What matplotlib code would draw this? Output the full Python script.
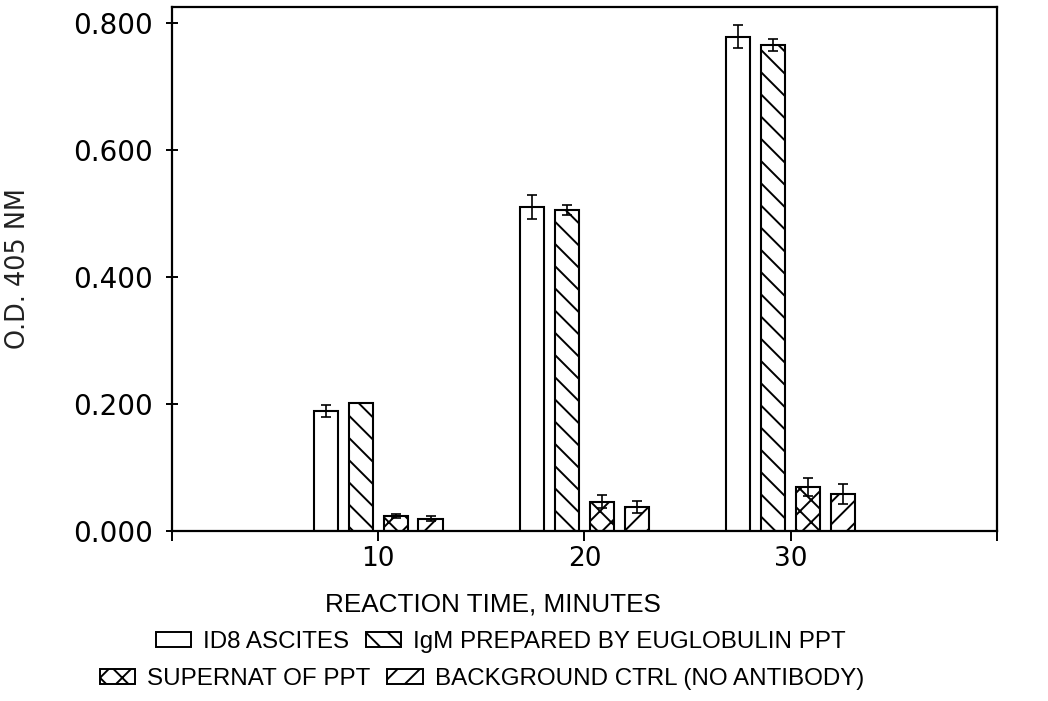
import numpy as np
import matplotlib
matplotlib.use("Agg")
import matplotlib.pyplot as plt
from matplotlib import font_manager
from matplotlib.patches import Patch

# data
times = [10, 20, 30]
labels = ["ID8 ASCITES", "IgM PREPARED BY EUGLOBULIN PPT",
          "SUPERNAT OF PPT", "BACKGROUND CTRL (NO ANTIBODY)"]
id8 = [0.189, 0.510, 0.778]
id8_err = [0.010, 0.019, 0.018]
igm = [0.201, 0.505, 0.765]
igm_err = [0.0, 0.008, 0.010]
supernat = [0.023, 0.046, 0.069]
supernat_err = [0.003, 0.010, 0.014]
background = [0.019, 0.038, 0.058]
background_err = [0.004, 0.009, 0.016]
y_ticks = [0.0, 0.2, 0.4, 0.6, 0.8]

values = [id8, igm, supernat, background]
errors = [id8_err, igm_err, supernat_err, background_err]
hatches = ["", "\\\\\\", "xxx", "///"]

names = {f.name for f in font_manager.fontManager.ttflist}
narrow = "Liberation Sans Narrow" if "Liberation Sans Narrow" in names else "Liberation Sans"

plt.rcParams["hatch.linewidth"] = 0.7
plt.rcParams["font.family"] = "DejaVu Sans"

fig = plt.figure(figsize=(5.24, 3.505), dpi=200)
ax = fig.add_axes([0.1641, 0.2425, 0.7872, 0.7475])

x = np.array(times, dtype=float)
step = 1.69
width = 1.17
for i, (vals, errs, h) in enumerate(zip(values, errors, hatches)):
    pos = x + (i - 1.5) * step
    ax.bar(pos, vals, width=width, facecolor="white", edgecolor="black",
           linewidth=0.75, hatch=h, zorder=2)
    ax.errorbar(pos, vals, yerr=errs, fmt="none", ecolor="black",
                elinewidth=0.6, capsize=1.8, capthick=0.6, zorder=3)

ax.set_xlim(0, 40)
ax.set_ylim(0, 0.825)
ax.set_xticks(times)
ax.set_xticks([0, 40], minor=True)
ax.set_yticks(y_ticks)
ax.set_yticklabels([f"{v:.3f}" for v in y_ticks])

for s in ax.spines.values():
    s.set_linewidth(0.8)
ax.tick_params(axis="y", direction="inout", length=4.5, width=0.7,
               labelsize=10, pad=4.5)
ax.tick_params(axis="x", which="both", direction="out", length=3.5,
               width=0.7, labelsize=9.5, pad=2)

ax.set_ylabel("O.D. 405 NM", fontsize=9.2, color="#222222")
ax.yaxis.set_label_coords(-0.171, 0.5)

ax.set_xlabel("REACTION TIME, MINUTES", fontsize=9.4, family=narrow)
ax.xaxis.set_label_coords(0.389, -0.118)
ax.xaxis.label.set_va("top")

# legend: two rows, each its own centred legend
handles = [Patch(facecolor="white", edgecolor="black", linewidth=0.7, hatch=h)
           for h in hatches]
rows = [(slice(0, 2), 501, 642), (slice(2, 4), 482, 679)]
for sl, cx, cy in rows:
    fig.legend(handles[sl], labels[sl], loc="center", ncol=2,
               bbox_to_anchor=(cx / 1048, 1 - cy / 701),
               frameon=False, handlelength=1.45, handleheight=0.6,
               handletextpad=0.5, columnspacing=0.7, borderpad=0,
               borderaxespad=0, prop={"family": narrow, "size": 8.7})

fig.savefig("out.png", dpi=200)
